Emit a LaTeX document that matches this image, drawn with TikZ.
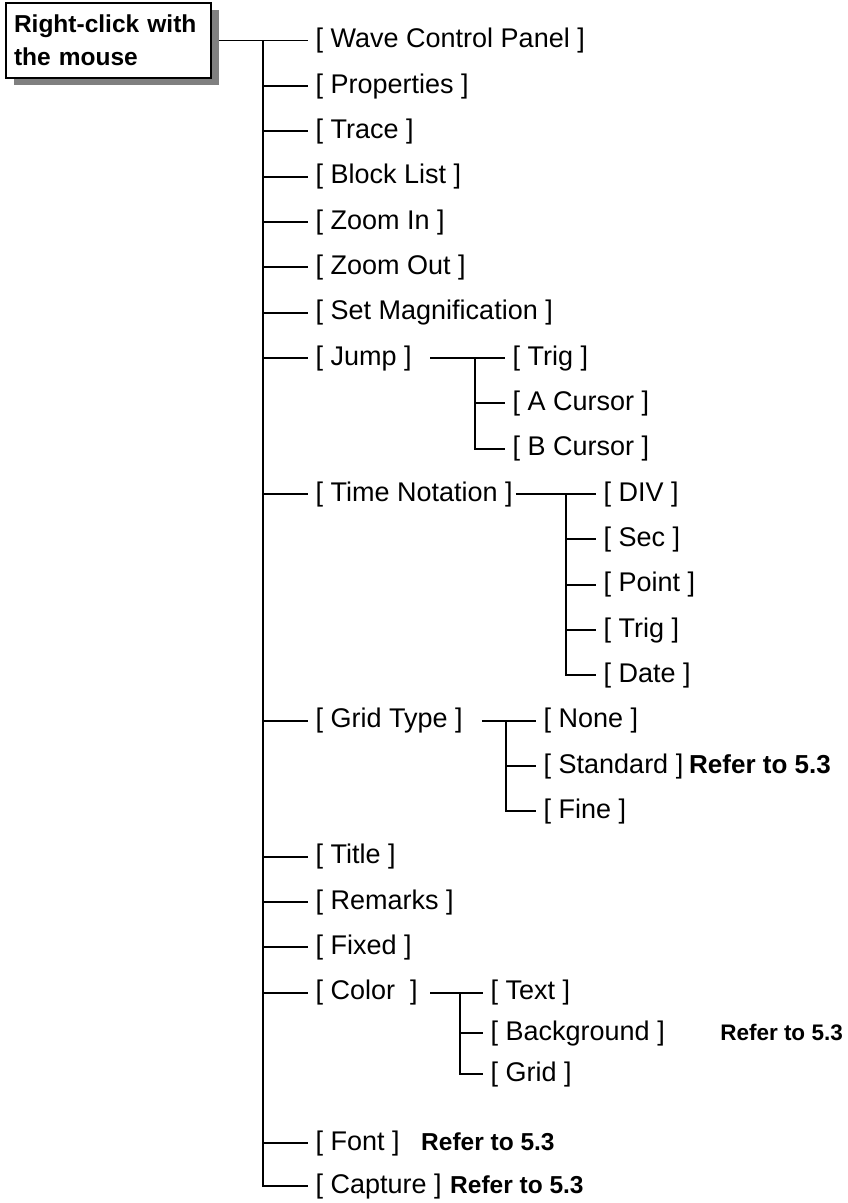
\documentclass[tikz,border=0pt]{standalone}
\usepackage{fontspec}
\setmainfont{Liberation Sans}
\usetikzlibrary{shadows}
\definecolor{shadowgray}{RGB}{128,128,128}
\begin{document}
\begin{tikzpicture}[x=1pt,y=-1pt,
  link/.style={line width=1.8pt, shorten >=7.5pt},
  item/.style={anchor=west, inner sep=0pt, text height=19.7pt, text depth=5.7pt, font=\fontsize{27}{30}\selectfont},
  refnote/.style={anchor=west, inner sep=0pt, text height=19.7pt, text depth=5.7pt, font=\bfseries\fontsize{24.5}{28}\selectfont},
  rootbox/.style={draw, line width=1.3pt, fill=white, text width=189pt, inner xsep=8pt, minimum height=75pt,
    align=left, font=\bfseries\fontsize{24.5}{33}\selectfont,
    drop shadow={shadow xshift=8pt, shadow yshift=-7pt, fill=shadowgray, opacity=1}}]
\useasboundingbox (0,0) rectangle (848,1203);

\node[rootbox] (root) at (108.5,40.5) {Right-click with\\the mouse};

% main items
\node[item] (wave)    at (315.5,40.5)  {[ Wave Control Panel ]};
\node[item] (prop)    at (315.5,86)    {[ Properties ]};
\node[item] (trace)   at (315.5,131.3) {[ Trace ]};
\node[item] (block)   at (315.5,176.7) {[ Block List ]};
\node[item] (zin)     at (315.5,222)   {[ Zoom In ]};
\node[item] (zout)    at (315.5,267.3) {[ Zoom Out ]};
\node[item] (setmag)  at (315.5,312.7) {[ Set Magnification ]};
\node[item] (jump)    at (315.5,358)   {[ Jump ]};
\node[item] (time)    at (315.5,494)   {[ Time Notation ]};
\node[item] (gridtype) at (315.5,720.7) {[ Grid Type ]};
\node[item] (title)   at (315.5,856.7) {[ Title ]};
\node[item] (remarks) at (315.5,902)   {[ Remarks ]};
\node[item] (fixed)   at (315.5,947.3) {[ Fixed ]};
\node[item] (color)   at (315.5,992.7) {[ Color~ ]};
\node[item] (font)    at (315.5,1143)  {[ Font ]};
\node[item] (capture) at (315.5,1186)  {[ Capture ]};

% jump sub items
\node[item] (jtrig) at (512.5,358)   {[ Trig ]};
\node[item] (acur)  at (512.5,403.3) {[ A Cursor ]};
\node[item] (bcur)  at (512.5,448.7) {[ B Cursor ]};

% time notation sub items
\node[item] (div)   at (603.5,494)   {[ DIV ]};
\node[item] (sec)   at (603.5,539.3) {[ Sec ]};
\node[item] (point) at (603.5,584.7) {[ Point ]};
\node[item] (ttrig) at (603.5,630)   {[ Trig ]};
\node[item] (date)  at (603.5,675.3) {[ Date ]};

% grid type sub items
\node[item] (none)     at (543.5,720.7) {[ None ]};
\node[item] (standard) at (543.5,766)   {[ Standard ]};
\node[item] (fine)     at (543.5,811.3) {[ Fine ]};

% color sub items
\node[item] (ctext) at (490.5,992.7) {[ Text ]};
\node[item] (cbg)   at (490.5,1033)  {[ Background ]};
\node[item] (cgrid) at (490.5,1074)  {[ Grid ]};

% notes
\node[refnote, font=\bfseries\fontsize{26}{30}\selectfont] (r1) at (689,766) {Refer to 5.3};
\node[refnote, anchor=east, font=\bfseries\fontsize{22.5}{26}\selectfont] (r2) at (843,1033) {Refer to 5.3};
\node[refnote] (r3) at (421,1143) {Refer to 5.3};
\node[refnote] (r4) at (450,1186) {Refer to 5.3};

% main trunk
\coordinate (t0) at (263,40.5);
\draw[line width=1.8pt, shorten <=7pt] (root.east) -- (t0);
\draw[link] (t0) -- (wave.west);
\foreach \n in {prop,trace,block,zin,zout,setmag,jump,time,gridtype,title,remarks,fixed,color,font}
  \draw[link] (t0 |- \n.west) -- (\n.west);
\draw[link] (t0) |- (capture.west);

% jump branch
\coordinate (jt) at (475,358);
\draw[link, shorten <=18.5pt] (jump.east) -- (jtrig.west);
\draw[link] (jt |- acur.west) -- (acur.west);
\draw[link] (jt) |- (bcur.west);

% time notation branch
\coordinate (tt) at (566,494);
\draw[link, shorten <=3pt] (time.east) -- (div.west);
\foreach \n in {sec,point,ttrig}
  \draw[link] (tt |- \n.west) -- (\n.west);
\draw[link] (tt) |- (date.west);

% grid type branch
\coordinate (gt) at (506,720.7);
\draw[link, shorten <=19pt] (gridtype.east) -- (none.west);
\draw[link] (gt |- standard.west) -- (standard.west);
\draw[link] (gt) |- (fine.west);

% color branch
\coordinate (ct) at (460,992.7);
\draw[link, shorten <=12.5pt] (color.east) -- (ctext.west);
\draw[link] (ct |- cbg.west) -- (cbg.west);
\draw[link] (ct) |- (cgrid.west);
\end{tikzpicture}
\end{document}
